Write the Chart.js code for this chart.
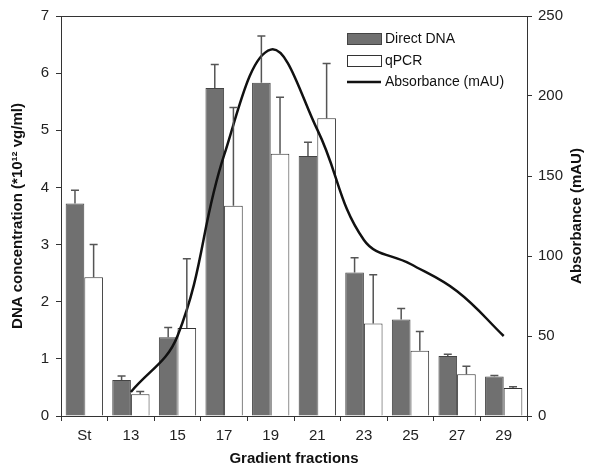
<!DOCTYPE html>
<html>
<head>
<meta charset="utf-8">
<script src="https://cdn.jsdelivr.net/npm/chart.js@4"></script>
<style>
  html, body { margin: 0; padding: 0; background: #fff; }
  #wrap { width: 590px; height: 468px; }
</style>
</head>
<body>
<div id="wrap"><canvas id="chart" width="590" height="468"></canvas></div>
<script>
// fractions on the x axis
const fractions = ["St", "13", "15", "17", "19", "21", "23", "25", "27", "29"];
// DNA concentration (*10^12 vg/ml)
const directDNA = [3.72, 0.63, 1.38, 5.74, 5.83, 4.55, 2.51, 1.69, 1.05, 0.69];
const directErr = [0.23, 0.07, 0.17, 0.41, 0.82, 0.24, 0.26, 0.19, 0.03, 0.02];
const qPCR = [2.43, 0.38, 1.54, 3.68, 4.59, 5.21, 1.62, 1.14, 0.73, 0.49];
const qPCRErr = [0.57, 0.05, 1.21, 1.72, 0.99, 0.96, 0.85, 0.34, 0.14, 0.02];
// absorbance (mAU), no reading for St
const absorbance = [null, 15, 50, 163, 229, 179, 110, 95, 78, 50];

const FONT = "'Liberation Sans', Arial, sans-serif";

// error bars (upper side only) drawn on top of bars
const errorBars = {
  id: "errorBars",
  afterDatasetsDraw(chart) {
    const ctx = chart.ctx;
    const y = chart.scales.y;
    [[0, directErr], [1, qPCRErr]].forEach(([idx, errs]) => {
      const meta = chart.getDatasetMeta(idx);
      meta.data.forEach((bar, i) => {
        const v = chart.data.datasets[idx].data[i];
        const top = y.getPixelForValue(v + errs[i]);
        ctx.save();
        ctx.strokeStyle = "#555";
        ctx.lineWidth = 1.5;
        ctx.beginPath();
        ctx.moveTo(bar.x, bar.y);
        ctx.lineTo(bar.x, top);
        ctx.moveTo(bar.x - 4, top);
        ctx.lineTo(bar.x + 4, top);
        ctx.stroke();
        ctx.restore();
      });
    });
  }
};

// frame top line, titles and legend
const decorations = {
  id: "decorations",
  afterDraw(chart) {
    const ctx = chart.ctx;
    const a = chart.chartArea;
    ctx.save();
    ctx.strokeStyle = "#333";
    ctx.lineWidth = 1;
    ctx.beginPath();
    ctx.moveTo(a.left, a.top + 0.5);
    ctx.lineTo(a.right, a.top + 0.5);
    ctx.stroke();

    ctx.fillStyle = "#111";
    ctx.font = "bold 15px " + FONT;
    ctx.textAlign = "center";
    ctx.textBaseline = "middle";
    ctx.fillText("Gradient fractions", (a.left + a.right) / 2, 459);

    ctx.save();
    ctx.translate(18, (a.top + a.bottom) / 2);
    ctx.rotate(-Math.PI / 2);
    ctx.fillText("DNA concentration (*10\u00B9\u00B2 vg/ml)", 0, 0);
    ctx.restore();

    ctx.save();
    ctx.translate(577, (a.top + a.bottom) / 2);
    ctx.rotate(-Math.PI / 2);
    ctx.fillText("Absorbance (mAU)", 0, 0);
    ctx.restore();

    // legend
    ctx.font = "14px " + FONT;
    ctx.textAlign = "left";
    ctx.fillStyle = "#707070";
    ctx.fillRect(347, 33, 34, 11);
    ctx.strokeStyle = "#444";
    ctx.strokeRect(347.5, 33.5, 34, 11);
    ctx.fillStyle = "#fff";
    ctx.fillRect(347, 55, 34, 11);
    ctx.strokeStyle = "#333";
    ctx.strokeRect(347.5, 55.5, 34, 11);
    ctx.strokeStyle = "#111";
    ctx.lineWidth = 2.5;
    ctx.beginPath();
    ctx.moveTo(347, 82);
    ctx.lineTo(381, 82);
    ctx.stroke();
    ctx.fillStyle = "#111";
    ctx.fillText("Direct DNA", 385, 39);
    ctx.fillText("qPCR", 385, 61);
    ctx.fillText("Absorbance (mAU)", 385, 82);
    ctx.restore();
  }
};

const ctx = document.getElementById("chart").getContext("2d");
new Chart(ctx, {
  data: {
    labels: fractions,
    datasets: [
      {
        type: "bar",
        label: "Direct DNA",
        data: directDNA,
        backgroundColor: "#707070",
        borderColor: "#444",
        borderWidth: 1,
        yAxisID: "y",
        order: 2
      },
      {
        type: "bar",
        label: "qPCR",
        data: qPCR,
        backgroundColor: "#ffffff",
        borderColor: "#333",
        borderWidth: 1,
        yAxisID: "y",
        order: 2
      },
      {
        type: "line",
        label: "Absorbance (mAU)",
        data: absorbance,
        borderColor: "#111",
        borderWidth: 2.5,
        pointRadius: 0,
        tension: 0.4,
        spanGaps: false,
        yAxisID: "y1",
        order: 1
      }
    ]
  },
  options: {
    responsive: false,
    animation: false,
    layout: { padding: { top: 16, left: 0, right: 0, bottom: 0 } },
    datasets: {
      bar: { categoryPercentage: 0.8, barPercentage: 1.0 }
    },
    plugins: {
      legend: { display: false },
      tooltip: { enabled: false }
    },
    scales: {
      x: {
        offset: true,
        grid: {
          offset: true,
          drawOnChartArea: false,
          tickLength: 5,
          color: "#333"
        },
        border: { color: "#333", width: 1 },
        ticks: { font: { family: FONT, size: 15 }, color: "#222", padding: 6 },
        afterFit(scale) { scale.height = 52; }
      },
      y: {
        position: "left",
        min: 0,
        max: 7,
        ticks: { stepSize: 1, font: { family: FONT, size: 15 }, color: "#222", padding: 7 },
        grid: { drawOnChartArea: false, tickLength: 5, color: "#333" },
        border: { color: "#333", width: 1 },
        afterFit(scale) { scale.width = 61; }
      },
      y1: {
        position: "right",
        min: 0,
        max: 250,
        ticks: { stepSize: 50, font: { family: FONT, size: 15 }, color: "#222", padding: 6 },
        grid: { drawOnChartArea: false, tickLength: 5, color: "#333" },
        border: { color: "#333", width: 1 },
        afterFit(scale) { scale.width = 63; }
      }
    }
  },
  plugins: [errorBars, decorations]
});
</script>
</body>
</html>
